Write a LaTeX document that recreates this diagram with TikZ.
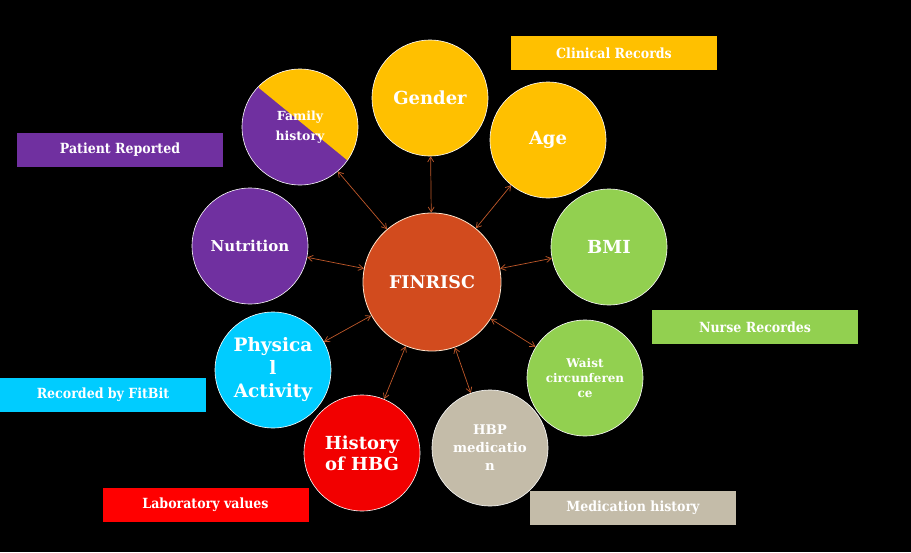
\documentclass[tikz,border=0pt]{standalone}
\usepackage{fontspec}
\setmainfont{DejaVu Serif}
\newfontfamily\tagfont{DejaVu Serif Condensed}
\usetikzlibrary{arrows.meta}
\definecolor{cyel}{HTML}{FFC000}
\definecolor{cpur}{HTML}{7030A0}
\definecolor{cgrn}{HTML}{92D050}
\definecolor{ccya}{HTML}{00CCFF}
\definecolor{cred}{HTML}{F20000}
\definecolor{ctan}{HTML}{C4BCA9}
\definecolor{corg}{HTML}{D24B1E}
\definecolor{carr}{HTML}{C0582A}
\newcommand{\fs}[2]{\bfseries\fontsize{#1}{#2}\selectfont}

\begin{document}
\begin{tikzpicture}[x=1pt,y=-1pt,>={Straight Barb[length=5pt,width=6pt]},
  hub/.style={circle,draw=white!80!orange,line width=0.8pt,fill=corg,minimum size=138pt,inner sep=0pt,text=white,font=\fs{17.5}{20}},
  factor/.style={circle,draw=white,line width=0.6pt,minimum size=116pt,inner sep=0pt,align=center,text=white,font=\fs{18}{21}},
  tag/.style={minimum width=206pt,minimum height=34pt,inner sep=0pt,text=white,font=\tagfont\fs{14}{16}},
  link/.style={<->,draw=carr,line width=0.7pt}]
  \useasboundingbox (0,0) rectangle (911,552);
  \fill[black] (0,0) rectangle (911,552);

  % centre
  \node[hub] (fin) at (432,282) {FINRISC};

  % factors
  \node[factor,fill=cyel] (gen) at (430,98) {Gender};
  \node[factor,fill=cyel] (age) at (548,140) {Age};
  \node[factor,fill=cgrn] (bmi) at (609,247) {BMI};
  \node[factor,fill=cgrn,font=\fs{12}{15}] (wst) at (585,378) {Waist\\circunferen\\ce};
  \node[factor,fill=ctan,font=\fs{13.3}{18}] (hbp) at (490,448) {HBP\\medicatio\\n};
  \node[factor,fill=cred] (hbg) at (362,453) {History\\of HBG};
  \node[factor,fill=ccya,font=\fs{18.5}{23}] (phy) at (273,370) {Physica\\l\\Activity};
  \node[factor,fill=cpur,font=\fs{15}{18}] (nut) at (250,246) {Nutrition};
  \node[factor,fill=cpur,font=\fs{12.5}{20},
    path picture={\fill[cyel] ([shift={(-41,-39)}]path picture bounding box.center)
      -- ++(88,72) -- ++(43,0) -- ++(0,-123) -- ++(-131,0) -- cycle;}] (fam) at (300,127) {Family\\history};

  \foreach \n in {gen,age,bmi,wst,hbp,hbg,phy,nut,fam}
    \draw[link] (fin) -- (\n);

  % sources
  \foreach \x/\y/\n/\c/\t in {614/53/clin/cyel/Clinical Records,120/149.5/pat/cpur/Patient Reported,
      755/327/nrs/cgrn/Nurse Recordes,103/394.5/fit/ccya/Recorded by FitBit,
      205.5/505/lab/red/Laboratory values,633/508/med/ctan/Medication history}
    \node[tag,fill=\c] (\n) at (\x,\y) {\t};
\end{tikzpicture}
\end{document}
